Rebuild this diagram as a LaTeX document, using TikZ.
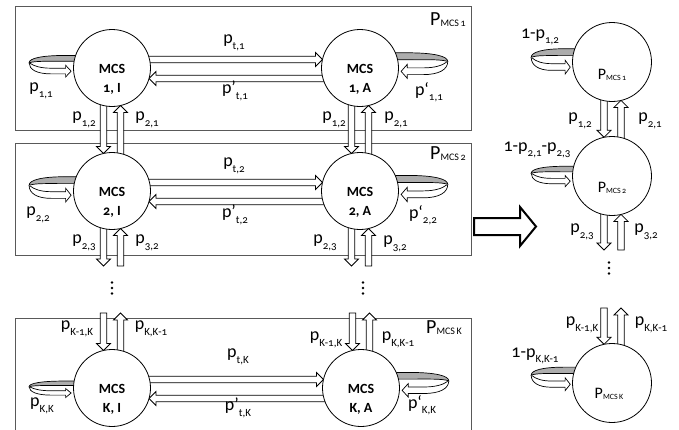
\documentclass[tikz,border=0pt]{standalone}
\usepackage{fontspec}
\setmainfont{Carlito}[Numbers=OldStyle]
\usetikzlibrary{calc}
\pgfdeclarelayer{bottom}
\pgfdeclarelayer{bg}
\pgfsetlayers{bottom,bg,main}
\newcommand\lb[2]{#1\raisebox{-0.3em}{\fontsize{11}{11}\selectfont #2}}
\newcommand\Pmcs[3]{\fontsize{#1}{#1}\selectfont P\raisebox{-1pt}{\fontsize{#2}{#2}\selectfont MCS\,#3}}
\newcommand\fatarrow[2]{%
  \draw[fatarr] let \p1=(#1), \p2=(#2), \n1={atan2(\y2-\y1,\x2-\x1)} in
   ($(\p1)+(\n1+90:3.2pt)$) -- ($(\p2)+(\n1+180:7pt)+(\n1+90:3.2pt)$)
   -- ($(\p2)+(\n1+180:7pt)+(\n1+90:7pt)$) -- (\p2)
   -- ($(\p2)+(\n1+180:7pt)+(\n1-90:7pt)$) -- ($(\p2)+(\n1+180:7pt)+(\n1-90:3.2pt)$)
   -- ($(\p1)+(\n1-90:3.2pt)$) -- cycle;}
\newcommand\vdotsat[2]{%
  \fill (#2) ++(0,-5.5) circle[radius=1.3pt] ++(0,5.5) circle[radius=1.3pt] ++(0,5.5) circle[radius=1.3pt];}
\tikzset{
  lab/.style={font=\fontsize{18}{20}\selectfont, inner sep=0pt},
  st/.style={circle, draw, fill=white, minimum size=77pt, inner sep=0pt, line width=0.8pt},
  rst/.style={circle, draw, fill=white, minimum size=79pt, inner sep=0pt, line width=0.8pt},
  stxt/.style={font=\fontsize{14}{19}\selectfont\bfseries, align=center, inner sep=0pt},
  fatarr/.style={draw=black, fill=white, line width=0.8pt, line join=miter},
  boxline/.style={draw=black!65, line width=0.9pt},
  selfloop/.pic={
    \filldraw[fill=black!32, draw=black, line width=0.7pt]
      (6,-12.5) -- (-8,-12.5) .. controls (-32,-12.5) and (-44,-9.5) .. (-44,-5)
      .. controls (-38,-7) and (-25,-6.5) .. (-8,-6.5) -- (6,-6.5) -- cycle;
    \filldraw[fill=white, draw=black, line width=0.7pt]
      (-44,-5) .. controls (-44,2) and (-36,6.3) .. (-22,6.3) -- (-7.5,6.3)
      -- (-7.5,9.5) -- (-2,3.5) -- (-7.5,-2.5) -- (-7.5,0.5) -- (-22,0.5)
      .. controls (-32,0.5) and (-39,-1.5) .. (-43,-4.5);
  }
}
\begin{document}
\begin{tikzpicture}[x=1pt,y=-1pt]
\useasboundingbox (0,0) rectangle (679,429);
% states
\node[st] (c1I) at (112,68) {};
\node[st] (c1A) at (360,68) {};
\node[st] (c2I) at (112,191) {};
\node[st] (c2A) at (360,191) {};
\node[st] (cKI) at (112,388) {};
\node[st] (cKA) at (361,388) {};
\node[rst] (r1) at (612,62) {};
\node[rst] (r2) at (612,176) {};
\node[rst] (rK) at (612,383) {};
\node[stxt] (t1I) at ($(c1I)+(0,11)$) {MCS\\1, I};
\node[stxt] (t1A) at ($(c1A)+(0,11)$) {MCS\\1, A};
\node[stxt] (t2I) at ($(c2I)+(0,11)$) {MCS\\2, I};
\node[stxt] (t2A) at ($(c2A)+(0,11)$) {MCS\\2, A};
\node[stxt] (tKI) at ($(cKI)+(0,11)$) {MCS\\K, I};
\node[stxt] (tKA) at ($(cKA)+(0,11)$) {MCS\\K, A};
\node[inner sep=0pt] (tr1) at ($(r1)+(0,13)$) {\Pmcs{16}{8}{1}};
\node[inner sep=0pt] (tr2) at ($(r2)+(0,12)$) {\Pmcs{16}{8}{2}};
\node[inner sep=0pt] (trK) at ($(rK)+(-3,11)$) {\Pmcs{16}{8}{K}};
% free ends
\coordinate (e2I) at ($(c2I)+(-8.5,75)$);
\coordinate (f2I) at ($(c2I)+(8.5,75)$);
\coordinate (e2A) at ($(c2A)+(-8.5,75)$);
\coordinate (f2A) at ($(c2A)+(8.5,75)$);
\coordinate (gKI) at ($(cKI)+(-8.5,-75)$);
\coordinate (hKI) at ($(cKI)+(8.5,-75)$);
\coordinate (gKA) at ($(cKA)+(-8.5,-75)$);
\coordinate (hKA) at ($(cKA)+(8.5,-75)$);
\coordinate (e2r) at ($(r2)+(-8,74)$);
\coordinate (f2r) at ($(r2)+(9,74)$);
\coordinate (gKr) at ($(rK)+(-8,-75)$);
\coordinate (hKr) at ($(rK)+(9,-75)$);
\coordinate (dI) at (112,288);
\coordinate (dA) at (363,288);
\coordinate (dr) at (609,268);
% boxes
\begin{pgfonlayer}{bottom}
\draw[boxline] (15,6) rectangle (471,130);
\draw[boxline] (15,143) rectangle (471,255);
\draw[boxline] (15,440) |- (471,318) -- (471,440);
\end{pgfonlayer}
\begin{pgfonlayer}{bg}
% self loops
\pic[yscale=0.98] at ($(c1I.west)+(0,-0.3)$) {selfloop};
\pic[yscale=1.15] at ($(c2I.west)+(0,0.1)$) {selfloop};
\pic[yscale=0.75] at ($(cKI.west)+(0,2.4)$) {selfloop};
\pic[xscale=-1.11,yscale=1.16] at ($(c1A.east)+(0,-0.7)$) {selfloop};
\pic[xscale=-1.11,yscale=1.19] at ($(c2A.east)+(0,-0.7)$) {selfloop};
\pic[xscale=-1.11,yscale=1.12] at ($(cKA.east)+(0,-1.6)$) {selfloop};
\pic[xscale=0.93,yscale=1.15] at ($(r1.west)+(0,1.1)$) {selfloop};
\pic[xscale=0.93,yscale=0.93] at ($(r2.west)+(0,1.9)$) {selfloop};
\pic[xscale=0.93,yscale=1.07] at ($(rK.west)+(0,-2.5)$) {selfloop};
% horizontal transitions
\fatarrow{$(c1I)+(34,-8.5)$}{$(c1A)+(-37.5,-8.5)$}
\fatarrow{$(c1A)+(-34,10.5)$}{$(c1I)+(37,10.5)$}
\fatarrow{$(c2I)+(34,-8.5)$}{$(c2A)+(-37.5,-8.5)$}
\fatarrow{$(c2A)+(-34,10.5)$}{$(c2I)+(37,10.5)$}
\fatarrow{$(cKI)+(34,-8.5)$}{$(cKA)+(-37.5,-8.5)$}
\fatarrow{$(cKA)+(-34,10.5)$}{$(cKI)+(37,10.5)$}
% vertical transitions, I column
\fatarrow{$(c1I)+(-8.5,34)$}{$(c2I)+(-8.5,-37.5)$}
\fatarrow{$(c2I)+(8.5,-34)$}{$(c1I)+(8.5,37.5)$}
\fatarrow{$(c2I)+(-8.5,34)$}{e2I}
\fatarrow{f2I}{$(c2I)+(8.5,37.5)$}
\fatarrow{gKI}{$(cKI)+(-8.5,-37.5)$}
\fatarrow{$(cKI)+(8.5,-34)$}{hKI}
% vertical transitions, A column
\fatarrow{$(c1A)+(-8.5,34)$}{$(c2A)+(-8.5,-37.5)$}
\fatarrow{$(c2A)+(8.5,-34)$}{$(c1A)+(8.5,37.5)$}
\fatarrow{$(c2A)+(-8.5,34)$}{e2A}
\fatarrow{f2A}{$(c2A)+(8.5,37.5)$}
\fatarrow{gKA}{$(cKA)+(-8.5,-37.5)$}
\fatarrow{$(cKA)+(8.5,-34)$}{hKA}
% right column
\fatarrow{$(r1)+(-8,35)$}{$(r2)+(-8,-38.7)$}
\fatarrow{$(r2)+(9,-35)$}{$(r1)+(9,38.4)$}
\fatarrow{$(r2)+(-8,35)$}{e2r}
\fatarrow{f2r}{$(r2)+(9,38.4)$}
\fatarrow{gKr}{$(rK)+(-8,-38.7)$}
\fatarrow{$(rK)+(9,-35)$}{hKr}
\end{pgfonlayer}
% big arrow
\draw[line width=2pt, line join=miter, fill=white]
  (474,218) -- (520,218) -- (520,207) -- (536,226.5) -- (520,246) -- (520,235) -- (474,235) -- cycle;
% dots
\vdotsat{}{dI}
\vdotsat{}{dA}
\vdotsat{}{dr}
% box labels
\node[inner sep=0pt] (P1) at (448,20) {\Pmcs{20}{10}{1}};
\node[inner sep=0pt] (P2) at (448,154) {\Pmcs{20}{10}{2}};
\node[inner sep=0pt] (PK) at (444,328) {\Pmcs{20}{10}{K}};
% row 1 labels
\node[lab] (l11) at (41,91) {\lb{p}{1,1}};
\node[lab] (lt1) at (234,43) {\lb{p}{t,1}};
\node[lab] (lpt1) at (235,91) {\lb{p'}{t,1}};
\node[lab] (lp11) at (429,92) {\lb{p‘}{1,1}};
\node[lab] (l12a) at (84,120) {\lb{p}{1,2}};
\node[lab] (l21a) at (147,120) {\lb{p}{2,1}};
\node[lab] (l12b) at (334,120) {\lb{p}{1,2}};
\node[lab] (l21b) at (396,120) {\lb{p}{2,1}};
% row 2 labels
\node[lab] (l22) at (38,215) {\lb{p}{2,2}};
\node[lab] (lt2) at (234,166) {\lb{p}{t,2}};
\node[lab] (lpt2) at (235,215) {\lb{p'}{t,2}};
\node[lab] (lp22) at (423,215) {\lb{p‘}{2,2}};
\node[lab] (l23a) at (84,243) {\lb{p}{2,3}};
\node[lab] (l32a) at (147,243) {\lb{p}{3,2}};
\node[lab] (l23b) at (325,243) {\lb{p}{2,3}};
\node[lab] (l32b) at (395,244) {\lb{p}{3,2}};
% row K labels
\node[lab] (lkkm) at (77,329) {\lb{p}{K-1,K}};
\node[lab] (lkmk) at (151,329) {\lb{p}{K,K-1}};
\node[lab] (lkk) at (42,406) {\lb{p}{K,K}};
\node[lab] (ltk) at (238,357) {\lb{p}{t,K}};
\node[lab] (lptk) at (238,408) {\lb{p'}{t,K}};
\node[lab] (lkkm2) at (326,340) {\lb{p}{K-1,K}};
\node[lab] (lkmk2) at (398,340) {\lb{p}{K,K-1}};
\node[lab] (lpkk) at (422,405) {\lb{p‘}{K,K}};
% right column labels
\node[lab] (rl1) at (540,37) {\lb{1-p}{1,2}};
\node[lab] (rl12) at (580,121) {\lb{p}{1,2}};
\node[lab] (rl21) at (650,121) {\lb{p}{2,1}};
\node[lab] (rl2) at (537,150) {\lb{1-p}{2,1}\lb{-p}{2,3}};
\node[lab] (rl23) at (582,232) {\lb{p}{2,3}};
\node[lab] (rl32) at (646,232) {\lb{p}{3,2}};
\node[lab] (rlkm) at (582,325) {\lb{p}{K-1,K}};
\node[lab] (rlmk) at (651,325) {\lb{p}{K,K-1}};
\node[lab] (rlK) at (535,356) {\lb{1-p}{K,K-1}};
\end{tikzpicture}
\end{document}
